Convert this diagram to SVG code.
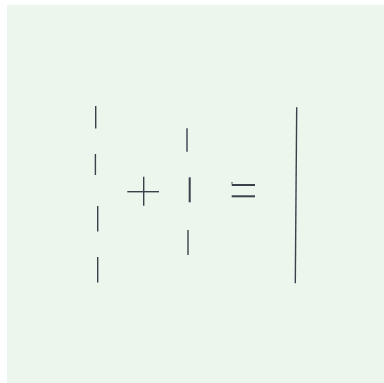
<svg xmlns="http://www.w3.org/2000/svg" width="384" height="383" viewBox="0 0 384 383">
<style>
.s{stroke:#3c404b;stroke-width:1.4;stroke-linecap:butt;fill:none}
.t{stroke-width:2}
</style>
<rect x="0" y="0" width="384" height="383" fill="#ffffff"/>
<rect x="7" y="5" width="377" height="378" fill="#edf6ed"/>
<g id="left-dashes">
<line class="s" x1="95.7" y1="106" x2="95.7" y2="128.5"/>
<line class="s" x1="95.4" y1="154" x2="95.4" y2="175"/>
<line class="s" x1="97.7" y1="206" x2="97.7" y2="231.5"/>
<line class="s" x1="97.7" y1="257" x2="97.7" y2="282.5"/>
</g>
<g id="plus">
<line class="s" x1="127.3" y1="191.7" x2="159" y2="191.7"/>
<line class="s" x1="143.7" y1="176.7" x2="143.7" y2="205.7"/>
</g>
<g id="middle-dashes">
<line class="s" x1="187" y1="128.3" x2="187" y2="151.7"/>
<line class="s t" x1="189.7" y1="177.3" x2="189.7" y2="202.3"/>
<line class="s" x1="188" y1="230" x2="188" y2="255"/>
</g>
<g id="equals">
<line class="s t" x1="231.7" y1="185" x2="255" y2="185"/>
<line class="s t" x1="231.7" y1="196.3" x2="255" y2="196.3"/>
<line class="s" x1="232" y1="182.2" x2="232" y2="183.4" stroke-width="0.8"/>
</g>
<g id="result">
<line class="s" x1="296.7" y1="107.3" x2="295.3" y2="283.3"/>
</g>
</svg>
